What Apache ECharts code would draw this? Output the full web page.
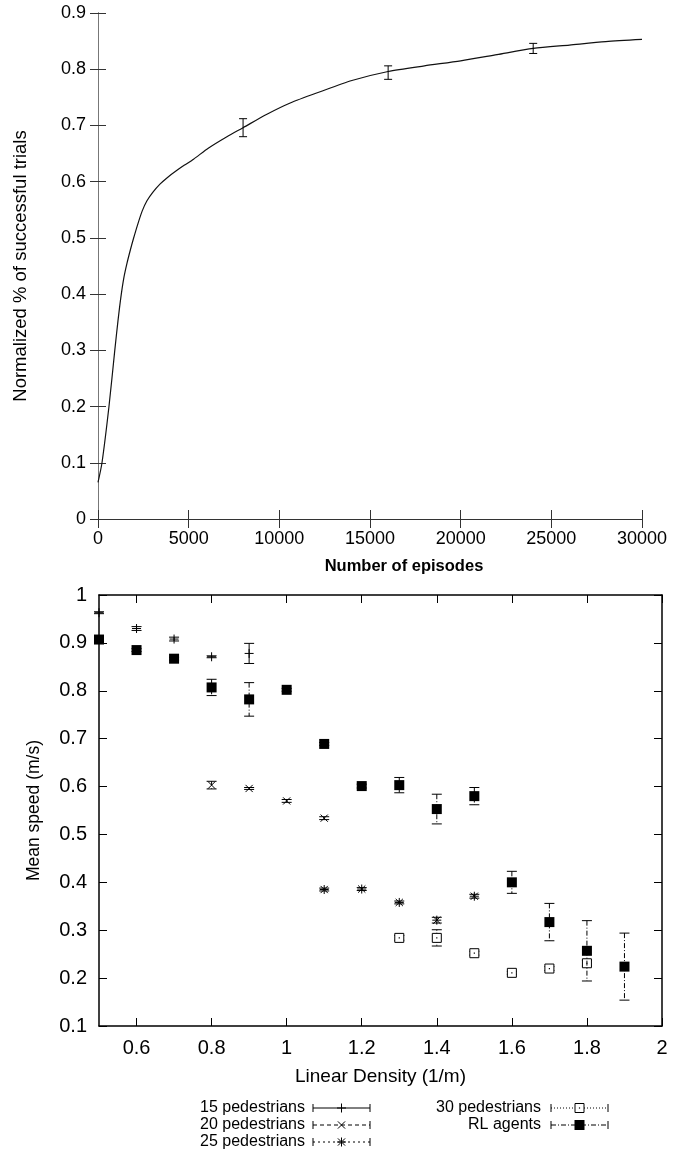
<!DOCTYPE html>
<html>
<head>
<meta charset="utf-8">
<script src="https://cdn.jsdelivr.net/npm/echarts@6/dist/echarts.min.js"></script>
<style>
html,body{margin:0;padding:0;background:#fff;}
#chart{width:673px;height:1159px;}
</style>
</head>
<body>
<div id="chart"></div>
<script>
// ---------- Top chart: learning curve ----------
const episodes = [0, 220, 605, 925, 1100, 1255, 1420, 1600, 1780, 1950, 2200, 2440, 2700, 3020, 3430, 3850, 4260, 4750, 5270, 6100, 7110, 8000, 9315, 10600, 12250, 14000, 16000, 18000, 20000, 22000, 24000, 26000, 28000, 30000];
const successRate = [0.065, 0.1, 0.2, 0.3, 0.352, 0.393, 0.428, 0.455, 0.478, 0.498, 0.525, 0.548, 0.566, 0.581, 0.596, 0.608, 0.618, 0.629, 0.64, 0.66, 0.68, 0.696, 0.72, 0.74, 0.76, 0.78, 0.796, 0.806, 0.815, 0.826, 0.837, 0.843, 0.849, 0.853];
const curveErrX = [8000, 16000, 24000];
const curveErrY = [0.696, 0.794, 0.837];
const curveErrE = [0.016, 0.012, 0.009];

// ---------- Bottom chart: mean speed vs density ----------
const ped15X = [0.5, 0.6, 0.7, 0.8, 0.9];
const ped15Y = [0.963, 0.930, 0.908, 0.871, 0.878];
const ped15E = [0.002, 0.004, 0.004, 0.002, 0.021];

const ped20X = [0.8, 0.9, 1.0, 1.1];
const ped20Y = [0.603, 0.596, 0.570, 0.534];
const ped20E = [0.008, 0.002, 0.003, 0.003];

const ped25X = [1.1, 1.2, 1.3, 1.4, 1.5];
const ped25Y = [0.385, 0.386, 0.358, 0.321, 0.371];
const ped25E = [0.003, 0.003, 0.003, 0.006, 0.004];

const ped30X = [1.3, 1.4, 1.5, 1.6, 1.7, 1.8];
const ped30Y = [0.284, 0.284, 0.252, 0.211, 0.220, 0.231];
const ped30E = [0.005, 0.017, 0.004, 0.003, 0.004, 0.006];

const rlX = [0.5, 0.6, 0.7, 0.8, 0.9, 1.0, 1.1, 1.2, 1.3, 1.4, 1.5, 1.6, 1.7, 1.8, 1.9];
const rlY = [0.907, 0.885, 0.867, 0.807, 0.782, 0.802, 0.689, 0.601, 0.603, 0.553, 0.580, 0.400, 0.317, 0.257, 0.224];
const rlE = [0.003, 0.003, 0.003, 0.017, 0.035, 0.003, 0.003, 0.004, 0.016, 0.031, 0.018, 0.023, 0.039, 0.063, 0.070];

const seriesNames = ['15 pedestrians', '20 pedestrians', '25 pedestrians', '30 pedestrians', 'RL agents'];
const xTicksBottom = [0.6, 0.8, 1, 1.2, 1.4, 1.6, 1.8, 2];

const FONT = 'Liberation Sans, Arial, Helvetica, sans-serif';
const zip3 = (a, b, c) => a.map((v, i) => [v, b[i], c[i]]);

function markerShapes(kind, cx, cy) {
  const s = 4.5, out = [];
  const ln = (x1, y1, x2, y2) => out.push({type: 'line', shape: {x1, y1, x2, y2}, style: {stroke: '#000', lineWidth: 1}});
  if (kind === 'plus' || kind === 'star') { ln(cx - s, cy, cx + s, cy); ln(cx, cy - s, cx, cy + s); }
  if (kind === 'cross' || kind === 'star') { ln(cx - s * 0.8, cy - s * 0.8, cx + s * 0.8, cy + s * 0.8); ln(cx - s * 0.8, cy + s * 0.8, cx + s * 0.8, cy - s * 0.8); }
  if (kind === 'boxdot') {
    out.push({type: 'rect', shape: {x: cx - 4.5, y: cy - 4.5, width: 9, height: 9}, style: {fill: '#fff', stroke: '#000', lineWidth: 1}});
    out.push({type: 'rect', shape: {x: cx - 0.6, y: cy - 0.6, width: 1.2, height: 1.2}, style: {fill: '#000'}});
  }
  if (kind === 'fsquare') {
    out.push({type: 'rect', shape: {x: cx - 5, y: cy - 5, width: 10, height: 10}, style: {fill: '#000'}});
  }
  return out;
}

function errSeries(name, data, kind, dash, xIdx, yIdx, capW) {
  return {
    name, type: 'custom', xAxisIndex: xIdx, yAxisIndex: yIdx, data, clip: false, z: 5,
    encode: {x: 0, y: 1},
    renderItem(params, api) {
      const x = api.value(0), y = api.value(1), e = api.value(2);
      const p = api.coord([x, y]);
      const hi = api.coord([x, y + e]);
      const lo = api.coord([x, y - e]);
      const cw = capW || 4;
      const st = {stroke: '#000', lineWidth: 1, lineDash: dash};
      const children = [
        {type: 'line', shape: {x1: p[0], y1: hi[1], x2: p[0], y2: lo[1]}, style: st},
        {type: 'line', shape: {x1: p[0] - cw, y1: hi[1], x2: p[0] + cw, y2: hi[1]}, style: {stroke: '#000', lineWidth: 1}},
        {type: 'line', shape: {x1: p[0] - cw, y1: lo[1], x2: p[0] + cw, y2: lo[1]}, style: {stroke: '#000', lineWidth: 1}}
      ].concat(markerShapes(kind, p[0], p[1]));
      return {type: 'group', children};
    }
  };
}

const styles = [
  {kind: 'plus', dash: null},
  {kind: 'cross', dash: [4, 3]},
  {kind: 'star', dash: [2, 3]},
  {kind: 'boxdot', dash: [1, 2]},
  {kind: 'fsquare', dash: [5, 2, 1, 2]}
];

const axisLabelTop = {color: '#000', fontSize: 18, fontFamily: FONT, margin: 11, formatter: v => String(+v.toFixed(2))};
const axisLabelBot = {color: '#000', fontSize: 20, fontFamily: FONT, margin: 12, formatter: v => String(+v.toFixed(2))};
const lineTop = {show: true, lineStyle: {color: '#333', width: 1}};
const lineBot = {show: true, lineStyle: {color: '#000', width: 1.5}};

const option = {
  animation: false,
  backgroundColor: '#fff',
  grid: [
    {left: 98, right: 31, top: 13, height: 506},
    {left: 99, right: 11, top: 595, height: 431}
  ],
  xAxis: [
    {gridIndex: 0, type: 'value', min: 0, max: 30000, interval: 5000, position: 'bottom',
      name: 'Number of episodes', nameLocation: 'middle', nameGap: 39,
      nameTextStyle: {color: '#000', fontSize: 16.5, fontWeight: 'bold', fontFamily: FONT, padding: [0, 0, 0, 68]},
      axisLine: lineTop, axisTick: {inside: true, length: 9, lineStyle: {color: '#333'}},
      axisLabel: axisLabelTop, splitLine: {show: false}},
    {gridIndex: 0, type: 'value', min: 0, max: 30000, interval: 5000, position: 'top',
      axisLine: lineTop, axisTick: {inside: true, length: 9, lineStyle: {color: '#333'}},
      axisLabel: {show: false}, splitLine: {show: false}},
    {gridIndex: 1, type: 'value', min: 0.5, max: 2, position: 'bottom',
      name: 'Linear Density (1/m)', nameLocation: 'middle', nameGap: 41,
      nameTextStyle: {color: '#000', fontSize: 19, fontFamily: FONT},
      axisLine: lineBot,
      axisTick: {inside: true, length: 8, customValues: xTicksBottom, lineStyle: {color: '#000'}},
      axisLabel: Object.assign({customValues: xTicksBottom}, axisLabelBot), splitLine: {show: false}},
    {gridIndex: 1, type: 'value', min: 0.5, max: 2, position: 'top',
      axisLine: lineBot,
      axisTick: {inside: true, length: 8, customValues: xTicksBottom, lineStyle: {color: '#000'}},
      axisLabel: {show: false}, splitLine: {show: false}}
  ],
  yAxis: [
    {gridIndex: 0, type: 'value', min: 0, max: 0.9, interval: 0.1, position: 'left',
      name: 'Normalized % of successful trials', nameLocation: 'middle', nameGap: 68,
      nameTextStyle: {color: '#000', fontSize: 18.5, fontFamily: FONT},
      axisLine: lineTop, axisTick: {inside: true, length: 8, lineStyle: {color: '#333'}},
      axisLabel: Object.assign({}, axisLabelTop, {margin: 12}), splitLine: {show: false}},
    {gridIndex: 0, type: 'value', min: 0, max: 0.9, interval: 0.1, position: 'right',
      axisLine: {show: true, lineStyle: {color: '#777', width: 1}}, axisTick: {inside: true, length: 8, lineStyle: {color: '#333'}},
      axisLabel: {show: false}, splitLine: {show: false}},
    {gridIndex: 1, type: 'value', min: 0.1, max: 1, interval: 0.1, position: 'left',
      name: 'Mean speed (m/s)', nameLocation: 'middle', nameGap: 56,
      nameTextStyle: {color: '#000', fontSize: 17.5, fontFamily: FONT},
      axisLine: lineBot, axisTick: {inside: true, length: 8, lineStyle: {color: '#000'}},
      axisLabel: axisLabelBot, splitLine: {show: false}},
    {gridIndex: 1, type: 'value', min: 0.1, max: 1, interval: 0.1, position: 'right',
      axisLine: lineBot, axisTick: {inside: true, length: 8, lineStyle: {color: '#000'}},
      axisLabel: {show: false}, splitLine: {show: false}}
  ],
  series: [
    {type: 'line', xAxisIndex: 0, yAxisIndex: 0, data: episodes.map((e, i) => [e, successRate[i]]),
      smooth: 0.25, showSymbol: false, lineStyle: {color: '#111', width: 1.2}},
    errSeries('curveErr', zip3(curveErrX, curveErrY, curveErrE), 'none', null, 0, 0, 4),
    errSeries(seriesNames[0], zip3(ped15X, ped15Y, ped15E), styles[0].kind, styles[0].dash, 2, 2, 5),
    errSeries(seriesNames[1], zip3(ped20X, ped20Y, ped20E), styles[1].kind, styles[1].dash, 2, 2, 5),
    errSeries(seriesNames[2], zip3(ped25X, ped25Y, ped25E), styles[2].kind, styles[2].dash, 2, 2, 5),
    errSeries(seriesNames[3], zip3(ped30X, ped30Y, ped30E), styles[3].kind, styles[3].dash, 2, 2, 5),
    errSeries(seriesNames[4], zip3(rlX, rlY, rlE), styles[4].kind, styles[4].dash, 2, 2, 5)
  ],
  graphic: []
};

// Legend (drawn as graphic elements)
const legendPos = [
  {tx: 305, sx: 313, y: 1108},
  {tx: 305, sx: 313, y: 1125},
  {tx: 305, sx: 313, y: 1142},
  {tx: 541, sx: 551, y: 1108},
  {tx: 541, sx: 551, y: 1125}
];
seriesNames.forEach((nm, i) => {
  const L = legendPos[i], w = 57, cx = L.sx + w / 2;
  option.graphic.push({type: 'text', x: L.tx, y: L.y,
    style: {text: nm, fill: '#000', font: '16px ' + FONT, textAlign: 'right', textVerticalAlign: 'middle'}});
  option.graphic.push({type: 'line', shape: {x1: L.sx, y1: L.y, x2: L.sx + w, y2: L.y},
    style: {stroke: '#000', lineWidth: 1, lineDash: styles[i].dash}});
  option.graphic.push({type: 'line', shape: {x1: L.sx, y1: L.y - 4, x2: L.sx, y2: L.y + 4}, style: {stroke: '#000', lineWidth: 1}});
  option.graphic.push({type: 'line', shape: {x1: L.sx + w, y1: L.y - 4, x2: L.sx + w, y2: L.y + 4}, style: {stroke: '#000', lineWidth: 1}});
  markerShapes(styles[i].kind, cx, L.y).forEach(m => option.graphic.push(m));
});

const chart = echarts.init(document.getElementById('chart'), null, {renderer: 'canvas'});
chart.setOption(option);
</script>
</body>
</html>
